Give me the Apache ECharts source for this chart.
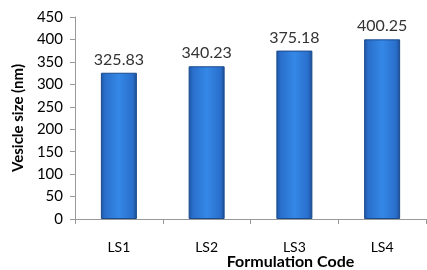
<!DOCTYPE html>
<html><head><meta charset="utf-8">
<script src="https://cdn.jsdelivr.net/npm/echarts@6/dist/echarts.min.js"></script>
<style>html,body{margin:0;padding:0;background:#fff}#c{width:427px;height:270px}</style>
</head><body><div id="c"></div>
<script>
const categories = ['LS1', 'LS2', 'LS3', 'LS4'];
const vesicleSize = [325.83, 340.23, 375.18, 400.25];
const yTicks = { min: 0, max: 450, interval: 50 };

const chart = echarts.init(document.getElementById('c'), null, { renderer: 'canvas' });
const font = 'Lato, "Open Sans", sans-serif';
chart.setOption({
  animation: false,
  grid: { left: 75, right: 1, top: 17, bottom: 51, containLabel: false, outerBoundsMode: 'none' },
  xAxis: {
    type: 'category', data: categories,
    name: 'Formulation Code', nameLocation: 'middle', nameGap: 35, nameMoveOverlap: false,
    nameTextStyle: { fontFamily: font, fontSize: 16, fontWeight: 'bold', color: '#000', padding: [0, 0, 0, 80] },
    axisLine: { lineStyle: { color: '#999' } },
    axisTick: { show: true, length: 5, lineStyle: { color: '#999' } },
    axisLabel: { fontFamily: font, fontSize: 14, color: '#000', margin: 21 }
  },
  yAxis: {
    type: 'value', min: yTicks.min, max: yTicks.max, interval: yTicks.interval,
    name: 'Vesicle size (nm)', nameLocation: 'middle', nameGap: 49, nameMoveOverlap: false,
    nameTextStyle: { fontFamily: font, fontSize: 15, fontWeight: 'bold', color: '#000' },
    axisLine: { show: true, lineStyle: { color: '#999' } },
    axisTick: { show: true, length: 5, lineStyle: { color: '#999' } },
    splitLine: { show: false },
    axisLabel: { fontFamily: font, fontSize: 15, color: '#000', margin: 12 }
  },
  series: [{
    type: 'bar', data: vesicleSize, barWidth: 36,
    itemStyle: {
      color: new echarts.graphic.LinearGradient(0, 0, 1, 0, [
        { offset: 0, color: '#1d55a3' },
        { offset: 0.12, color: '#2a6fcc' },
        { offset: 0.5, color: '#3588e6' },
        { offset: 0.88, color: '#2a6fcc' },
        { offset: 1, color: '#1b4d94' }
      ]),
      borderColor: '#1a4a8c', borderWidth: 1
    },
    label: {
      show: true, position: 'top', distance: 5,
      fontFamily: font, fontSize: 16, color: '#333',
      formatter: p => p.value.toFixed(2)
    }
  }]
});
</script></body></html>
